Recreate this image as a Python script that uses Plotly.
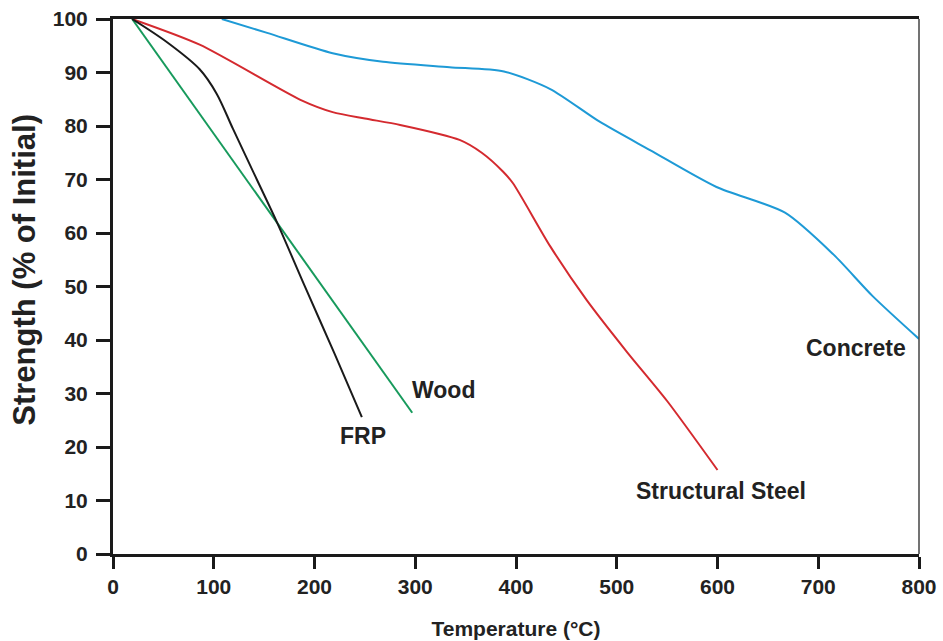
import plotly.graph_objects as go

# Temperature (°C) vs strength (% of initial)
frp_t = [19, 54, 86, 103, 119, 143, 163, 190, 220, 247]
frp_s = [100, 95.6, 90.6, 86.0, 79.5, 69.9, 61.9, 50.2, 37.4, 25.6]

wood_t = [19, 297]
wood_s = [100, 26.4]

steel_t = [19, 86, 186, 218, 250, 285, 344, 366, 387, 397, 434, 470, 510, 550, 600]
steel_s = [100, 95.2, 84.9, 82.6, 81.4, 80.2, 77.4, 75.0, 71.5, 69.3, 57.5, 47.5, 37.8, 28.6, 15.7]

concrete_t = [108, 153, 218, 268, 334, 388, 434, 483, 533, 599, 667, 715, 754, 800]
concrete_s = [100, 97.4, 93.6, 92.0, 91.0, 90.2, 86.9, 80.8, 75.5, 68.6, 63.8, 56.0, 48.2, 40.2]

label_names = ["FRP", "Wood", "Structural Steel", "Concrete"]
label_t = [248, 328, 603, 737]
label_s = [22.0, 30.6, 11.8, 38.5]

x_ticks = [0, 100, 200, 300, 400, 500, 600, 700, 800]
y_ticks = [0, 10, 20, 30, 40, 50, 60, 70, 80, 90, 100]

FONT = "Liberation Sans"
TXT = "#222222"

fig = go.Figure()
series = [
    (concrete_t, concrete_s, "#1e9ad6", "spline", 0.7),
    (steel_t, steel_s, "#d42a2f", "spline", 0.7),
    (wood_t, wood_s, "#179a5c", "linear", 0),
    (frp_t, frp_s, "#1a1a1a", "spline", 0.9),
]
for t, s, c, shp, sm in series:
    ln = dict(color=c, width=2, shape=shp)
    if shp == "spline":
        ln["smoothing"] = sm
    fig.add_trace(go.Scatter(x=t, y=s, mode="lines", line=ln,
                             showlegend=False, hoverinfo="skip", cliponaxis=False))

for n, t, s in zip(label_names, label_t, label_s):
    fig.add_annotation(x=t, y=s, text="<b>%s</b>" % n, showarrow=False,
                       font=dict(family=FONT, size=23, color=TXT))

fig.add_annotation(xref="paper", yref="paper", x=-0.11, y=0.532,
                   xanchor="center", yanchor="middle",
                   text="<b>Strength (% of Initial)</b>", textangle=-90,
                   showarrow=False, font=dict(family=FONT, size=31, color=TXT))

fig.update_xaxes(range=[0, 800], tickvals=x_ticks, showgrid=False, zeroline=False,
                 showline=True, linecolor="#1a1a1a", linewidth=3, mirror=True,
                 automargin=False,
                 ticks="outside", ticklen=12, tickwidth=3, tickcolor="#1a1a1a",
                 tickfont=dict(family=FONT, size=21, color=TXT, weight="bold"),
                 title=dict(text="<b>Temperature (°C)</b>", standoff=25,
                            font=dict(family=FONT, size=21, color=TXT)))
fig.update_yaxes(range=[0, 100], tickvals=y_ticks, showgrid=False, zeroline=False,
                 showline=True, linecolor="#1a1a1a", linewidth=3,
                 automargin=False,
                 ticks="outside", ticklen=14, tickwidth=3, tickcolor="#1a1a1a",
                 tickfont=dict(family=FONT, size=21, color=TXT, weight="bold"),
                 ticklabelstandoff=4)

fig.add_shape(type="line", xref="paper", yref="paper", x0=1, x1=1, y0=0, y1=1,
              line=dict(color="#444444", width=1.5))

fig.update_layout(width=943, height=641, margin=dict(l=113, r=24, t=19, b=87),
                  plot_bgcolor="white", paper_bgcolor="white")

fig.write_html("out.html")
